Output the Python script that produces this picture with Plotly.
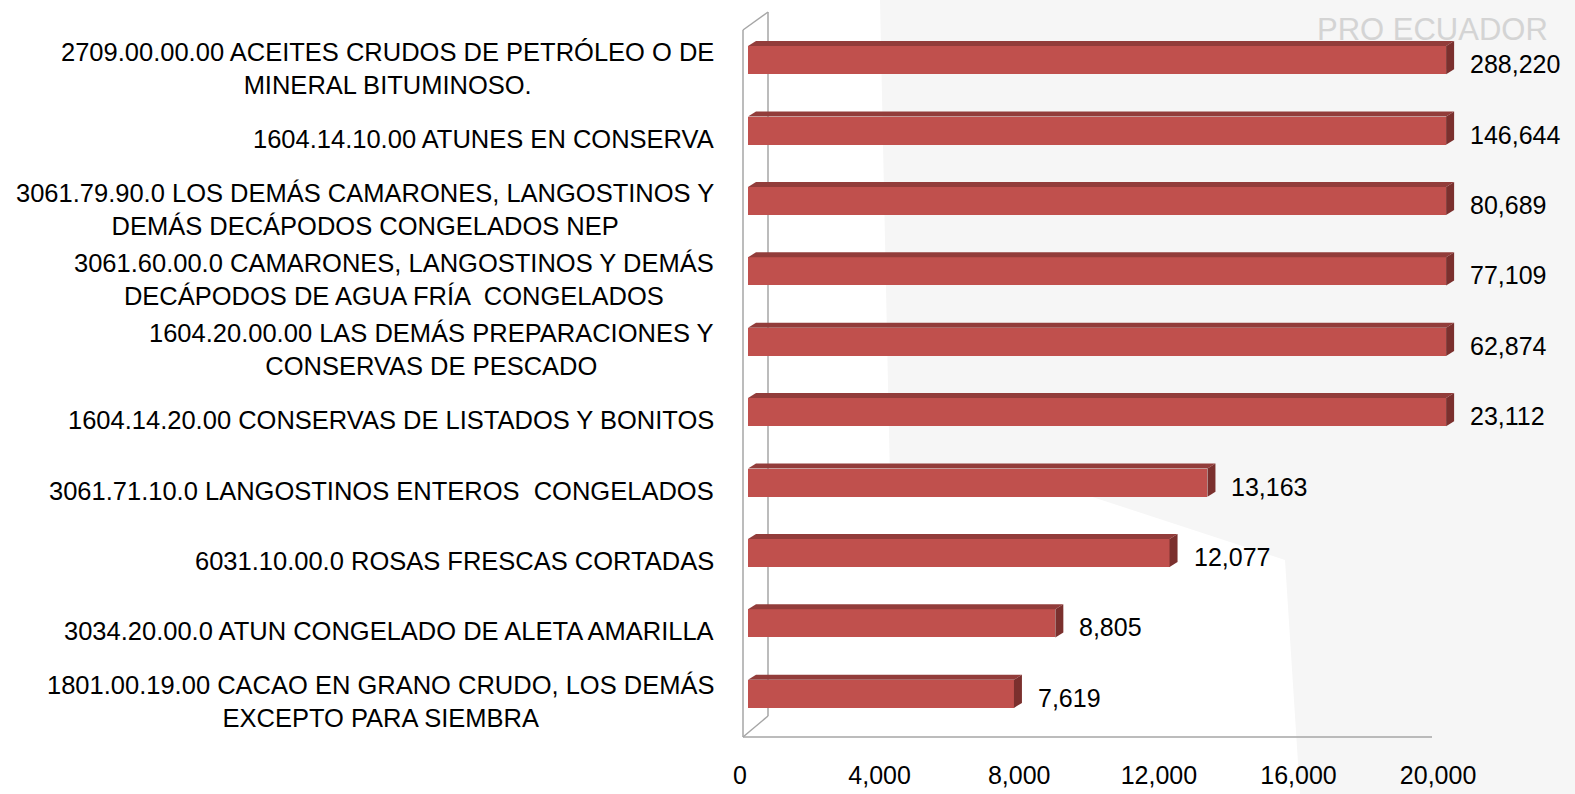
import numpy as np
import plotly.graph_objects as go

categories = [
    "2709.00.00.00 ACEITES CRUDOS DE PETRÓLEO O DE<br>MINERAL BITUMINOSO.",
    "1604.14.10.00 ATUNES EN CONSERVA",
    "3061.79.90.0 LOS DEMÁS CAMARONES, LANGOSTINOS Y<br>DEMÁS DECÁPODOS CONGELADOS NEP",
    "3061.60.00.0 CAMARONES, LANGOSTINOS Y DEMÁS<br>DECÁPODOS DE AGUA FRÍA  CONGELADOS",
    "1604.20.00.00 LAS DEMÁS PREPARACIONES Y<br>CONSERVAS DE PESCADO",
    "1604.14.20.00 CONSERVAS DE LISTADOS Y BONITOS",
    "3061.71.10.0 LANGOSTINOS ENTEROS  CONGELADOS",
    "6031.10.00.0 ROSAS FRESCAS CORTADAS",
    "3034.20.00.0 ATUN CONGELADO DE ALETA AMARILLA",
    "1801.00.19.00 CACAO EN GRANO CRUDO, LOS DEMÁS<br>EXCEPTO PARA SIEMBRA",
]
values = [288220, 146644, 80689, 77109, 62874, 23112, 13163, 12077, 8805, 7619]
tick_values = [0, 4000, 8000, 12000, 16000, 20000]
axis_max = 20000

FONT = "Liberation Sans, Arial, sans-serif"
FS_LABEL = 25.5
FS = 25
FRONT = "#C0504D"
TOP = "#923C3A"
SIDE = "#7B302E"

# layout geometry (pixels)
FW, FH = 1575, 794
L, T = 748, 25
PX_PER_UNIT = 0.0349
XR = 21000
W = round(XR * PX_PER_UNIT)
H = 704
R = FW - L - W
B = FH - T - H


def pxx(p):
    return (p - L) / W


def pxy(p):
    return (T + H - p) / H


idx = list(range(len(values)))
shown = np.minimum(values, axis_max)

fig = go.Figure()
fig.add_trace(go.Bar(
    x=shown, y=idx, orientation="h", width=0.4,
    marker=dict(color=FRONT, line=dict(width=0)),
    hoverinfo="skip", showlegend=False,
))

shapes = []
# faint background watermark
wm = [(880, 0), (1575, 0), (1575, 794), (1300, 794), (1285, 560), (1010, 470), (890, 480)]
path = "M " + " L ".join(f"{pxx(a):.4f},{pxy(b):.4f}" for a, b in wm) + " Z"
shapes.append(dict(type="path", xref="paper", yref="paper", path=path,
                   fillcolor="#F6F6F6", line=dict(width=0), layer="below"))

# wall / floor lines
gray = "#A6A6A6"
for (x0, y0, x1, y1) in [(743, 30, 743, 737), (768, 12, 768, 716),
                         (743, 30, 768, 12), (743, 737, 768, 716),
                         (743, 737, 1432, 737)]:
    shapes.append(dict(type="line", xref="paper", yref="paper",
                       x0=pxx(x0), y0=pxy(y0), x1=pxx(x1), y1=pxy(y1),
                       line=dict(color=gray, width=1.5), layer="below"))

# 3D faces of the bars
dx = 8 / PX_PER_UNIT
dy = 5 / (H / 10)
h = 0.2
for i, v in zip(idx, shown):
    top = (f"M 0,{i - h} L {v},{i - h} L {v + dx},{i - h - dy} "
           f"L {dx},{i - h - dy} Z")
    side = (f"M {v},{i - h} L {v + dx},{i - h - dy} L {v + dx},{i + h - dy} "
            f"L {v},{i + h} Z")
    shapes.append(dict(type="path", xref="x", yref="y", path=top,
                       fillcolor=TOP, line=dict(width=0), layer="above"))
    shapes.append(dict(type="path", xref="x", yref="y", path=side,
                       fillcolor=SIDE, line=dict(width=0), layer="above"))

annotations = []
annotations.append(dict(
    x=pxx(1432), y=pxy(29), xref="paper", yref="paper", text="PRO ECUADOR",
    xanchor="center", yanchor="middle", showarrow=False,
    font=dict(family=FONT, size=31, color="#D4D4D4"),
))
for i, (c, v, s) in enumerate(zip(categories, values, shown)):
    annotations.append(dict(
        x=pxx(716), y=i, xref="paper", yref="y", text=c,
        xanchor="right", yanchor="middle", align="center", showarrow=False,
        yshift=-8, font=dict(family=FONT, size=FS_LABEL, color="#000000"),
    ))
    annotations.append(dict(
        x=s, y=i, xref="x", yref="y", text=f"{v:,}",
        xanchor="left", yanchor="middle", showarrow=False,
        xshift=22, yshift=-4, font=dict(family=FONT, size=FS, color="#000000"),
    ))

fig.update_layout(
    width=FW, height=FH,
    margin=dict(l=L, r=R, t=T, b=B, pad=0, autoexpand=False),
    paper_bgcolor="white", plot_bgcolor="rgba(0,0,0,0)",
    shapes=shapes, annotations=annotations,
    bargap=0,
    xaxis=dict(range=[0, XR], tickvals=tick_values, tickformat=",d",
               showgrid=False, zeroline=False, showline=False,
               automargin=False,
               ticks="outside", ticklen=24, tickcolor="rgba(0,0,0,0)",
               ticklabelshift=-8,
               tickfont=dict(family=FONT, size=FS, color="#000000")),
    yaxis=dict(range=[9.5, -0.5], showticklabels=False, showgrid=False,
               zeroline=False, showline=False, automargin=False),
)

fig.write_html(
    "out.html",
    config={"displayModeBar": False},
    post_script="document.body.style.margin='0';document.body.style.overflow='hidden';",
)
